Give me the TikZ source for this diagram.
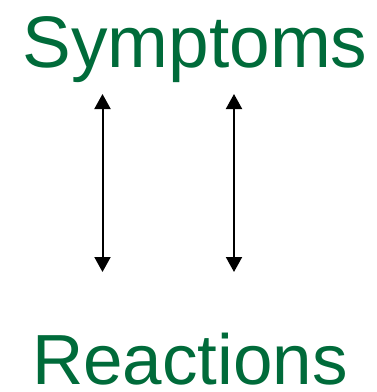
\documentclass[tikz,border=0pt]{standalone}
\usepackage{fontspec}
\setmainfont{Liberation Sans}
\usepackage{tikz}
\usetikzlibrary{positioning,arrows.meta}
\definecolor{termGreen}{HTML}{006B3A}
\tikzset{
  term/.style={inner sep=0pt, text=termGreen, anchor=base},
  link/.style={{Triangle[length=15pt,width=16pt]}-{Triangle[length=15pt,width=16pt]}, line width=2pt, black}
}

\begin{document}
\begin{tikzpicture}[x=1pt, y=-1pt]
  \useasboundingbox (0,0) rectangle (376,392);
  \node[term, font=\fontsize{73}{80}\selectfont] (sym) at (195,67) {Symptoms};
  \node[term, font=\fontsize{71}{78}\selectfont] (rea) at (190,384) {Reactions};

  \coordinate (leftTop) at (102.5,94);
  \coordinate (leftBot) at (102.5,272);
  \coordinate (rightTop) at (234,94);
  \coordinate (rightBot) at (234,272);

  \draw[link] (leftTop) -- (leftBot);
  \draw[link] (rightTop) -- (rightBot);
\end{tikzpicture}
\end{document}
